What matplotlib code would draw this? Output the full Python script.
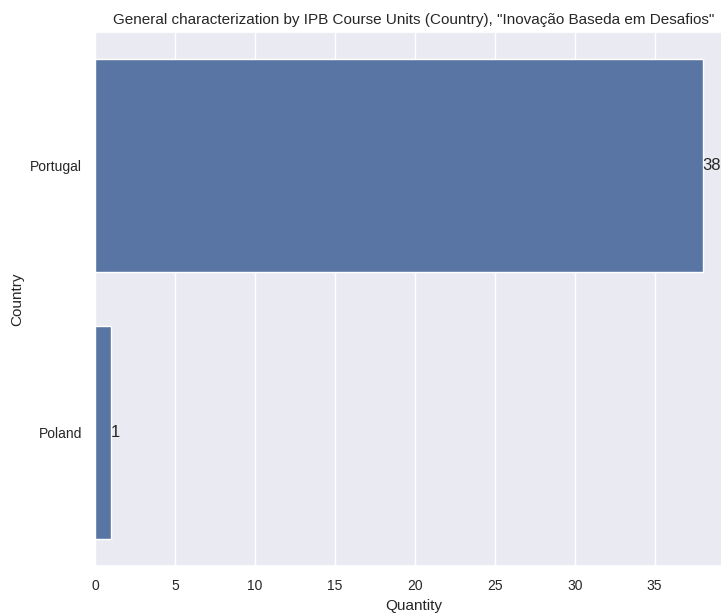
import matplotlib
matplotlib.use("Agg")
import matplotlib.pyplot as plt
import seaborn as sns
import pandas as pd

countries = ["Portugal", "Poland"]
quantities = [38, 1]

sns.set_theme(style="darkgrid")
plt.rcParams['font.family'] = ['Liberation Sans', 'DejaVu Sans']

df = pd.DataFrame({"Country": countries, "Quantity": quantities})

fig = plt.figure(figsize=(7.21, 6.14), dpi=100)
ax = fig.add_axes([95 / 721, 48 / 614, 638 / 721, 534 / 614])
sns.barplot(data=df, x="Quantity", y="Country", ax=ax, orient="h")

for c in ax.containers:
    ax.bar_label(c, fontsize=12)

ax.set_title('General characterization by IPB Course Units (Country), "Inovação Baseda em Desafios"',
             fontsize=11)
ax.set_xlabel("Quantity", fontsize=11)
ax.set_ylabel("Country", fontsize=11)
ax.tick_params(labelsize=10)

fig.savefig("out.png", dpi=100)
